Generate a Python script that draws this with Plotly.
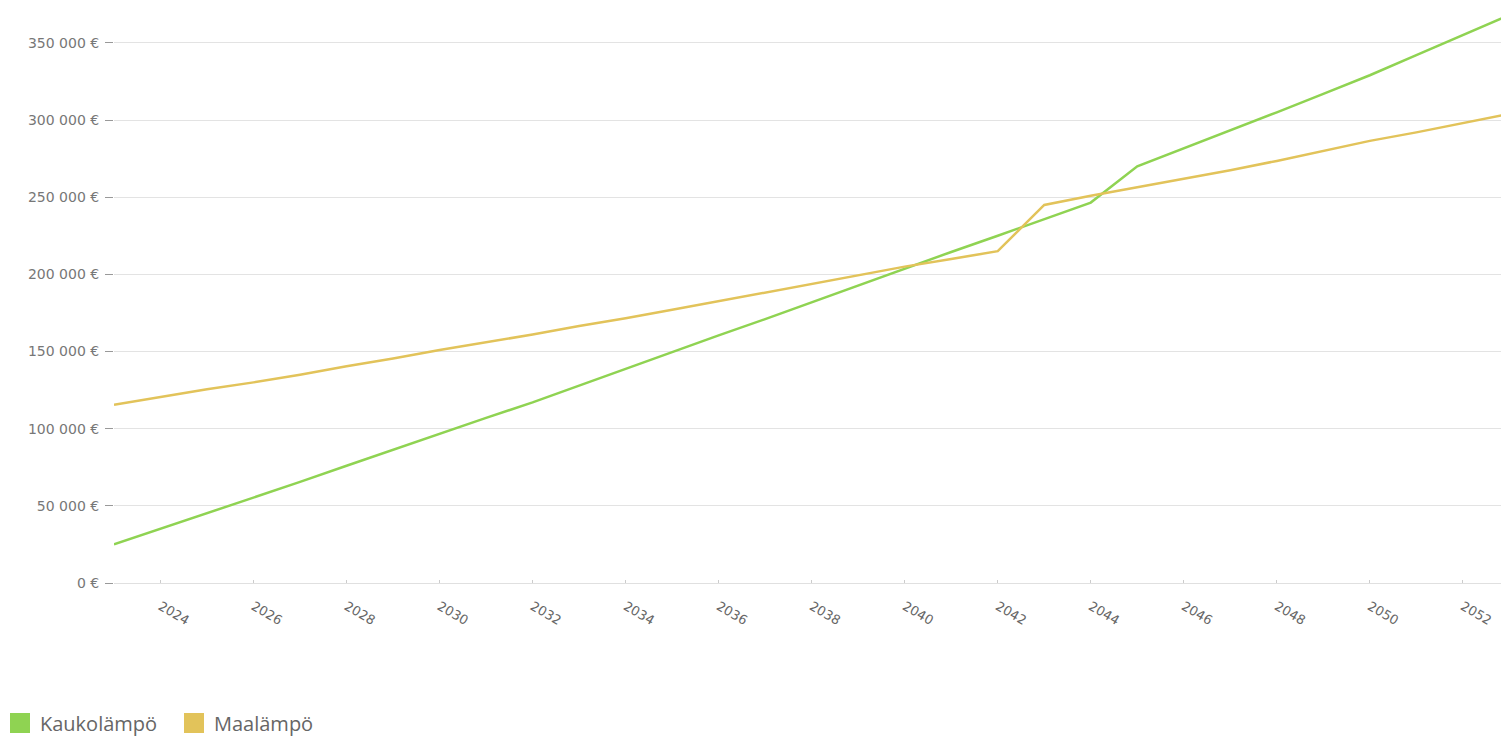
import plotly.graph_objects as go

years = list(range(2023, 2054))
kaukolampo = [25000, 35000, 45000, 55500, 65500, 76000, 86500, 97000, 107000, 117000,
              128000, 139000, 150000, 160500, 171000, 182000, 193000, 204000, 214500, 225000,
              235500, 246500, 270000, 281500, 293000, 305000, 317000, 329000, 342000, 355000, 368000]
maalampo = [115500, 120500, 125500, 130000, 135000, 140500, 145500, 151000, 156000, 161000,
            166500, 171500, 177000, 182500, 188000, 193500, 199000, 205000, 210000, 215000,
            245000, 251000, 256500, 262000, 267500, 273500, 280000, 286500, 292000, 298000, 304000]
series_names = ["Kaukolämpö", "Maalämpö"]
colors = ["#8fd352", "#e2c35a"]

y_ticks = [0, 50000, 100000, 150000, 200000, 250000, 300000, 350000]
y_labels = ["0 €", "50 000 €", "100 000 €", "150 000 €", "200 000 €", "250 000 €", "300 000 €", "350 000 €"]
x_ticks = list(range(2024, 2053, 2))

fig = go.Figure()
for name, vals, col in zip(series_names, [kaukolampo, maalampo], colors):
    fig.add_trace(go.Scatter(x=years, y=vals, mode="lines", name=name,
                             line=dict(color=col, width=2.5), showlegend=False))
for name, col in zip(series_names, colors):
    fig.add_trace(go.Scatter(x=[None], y=[None], mode="markers", name=name,
                             marker=dict(symbol="square", color=col, size=16,
                                         line=dict(color=col, width=4))))

fig.update_layout(
    width=1501, height=739,
    margin=dict(l=114, r=0, t=12, b=156, autoexpand=False),
    plot_bgcolor="white", paper_bgcolor="white",
    font=dict(family="DejaVu Sans", size=13, color="#666666"),
    legend=dict(orientation="h", x=-0.0822, xanchor="left",
                y=-0.245, yanchor="middle",
                font=dict(family="Open Sans", size=20, color="#666666"),
                itemwidth=30, tracegroupgap=0, entrywidth=129, entrywidthmode="pixels"),
    showlegend=True,
)
fig.update_xaxes(range=[2023, 2052.82], tickvals=x_ticks, ticktext=[str(v) for v in x_ticks],
                 tickangle=30, showgrid=False, showline=True, linecolor="#e0e0e0", linewidth=1,
                 ticks="inside", ticklen=3, tickcolor="#cccccc", zeroline=False, automargin=False,
                 ticklabelstandoff=10,
                 tickfont=dict(family="DejaVu Sans", size=13, color="#666666"))
fig.update_yaxes(range=[0, 370000], tickvals=y_ticks, ticktext=y_labels, automargin=False,
                 showgrid=True, gridcolor="#e3e3e3", gridwidth=1, zeroline=False,
                 ticks="outside", ticklen=8, tickcolor="#999999", ticklabelstandoff=3,
                 tickfont=dict(family="DejaVu Sans", size=14, color="#777777"))

fig.write_html("out.html")
